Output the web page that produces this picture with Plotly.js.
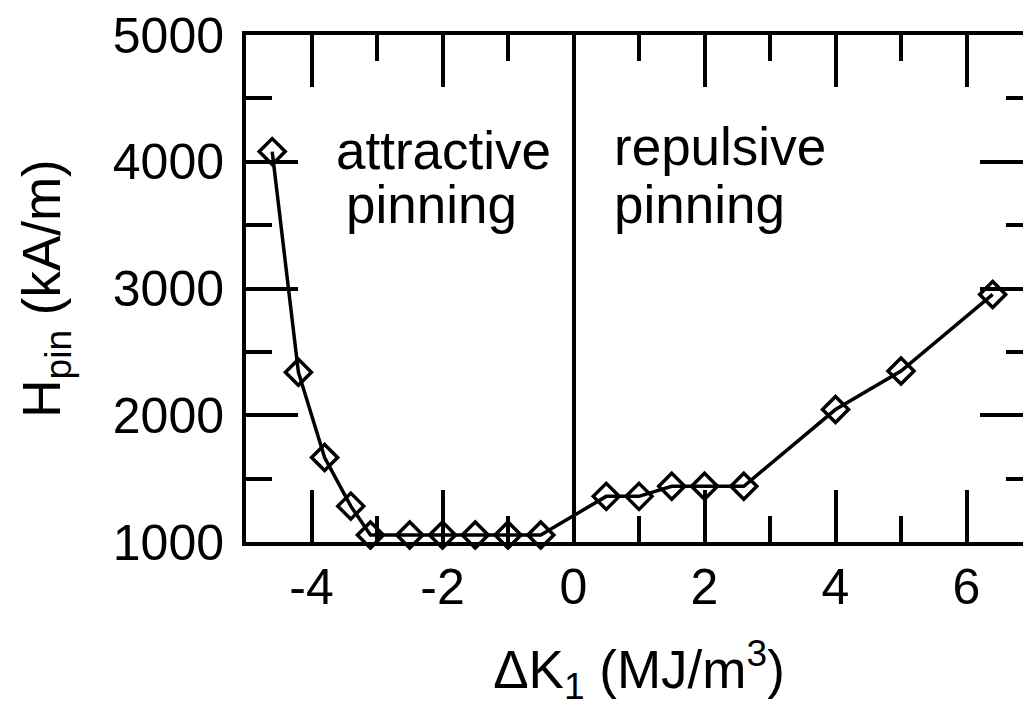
<!DOCTYPE html>
<html>
<head>
<meta charset="utf-8">
<script src="https://cdn.plot.ly/plotly-3.0.1.min.js"></script>
<style>
html,body{margin:0;padding:0;overflow:hidden;background:#fff;}
#chart{width:1050px;height:707px;}
</style>
</head>
<body>
<div id="chart"></div>
<script>
const deltaK1 = [-4.6, -4.2, -3.8, -3.4, -3.1, -2.5, -2.0, -1.5, -1.0, -0.5, 0.5, 1.0, 1.5, 2.0, 2.6, 4.0, 5.0, 6.4];
const Hpin = [4080, 2340, 1667, 1283, 1055, 1055, 1055, 1055, 1055, 1055, 1360, 1360, 1440, 1440, 1440, 2045, 2349, 2953];
const xTicks = [-4, -2, 0, 2, 4, 6];
const yTicks = [1000, 2000, 3000, 4000, 5000];
const regionLabels = [
  {text: 'attractive', x: -3.65, y: 4090},
  {text: 'pinning', x: -3.5, y: 3660},
  {text: 'repulsive', x: 0.59, y: 4120},
  {text: 'pinning', x: 0.59, y: 3660}
];

const FONT = 'Liberation Sans, Arial, sans-serif';

const trace = {
  x: deltaK1, y: Hpin, type: 'scatter', mode: 'lines+markers',
  line: {color: '#000', width: 3.5},
  marker: {symbol: 'diamond-open', size: 20, color: '#000', line: {color: '#000', width: 3.5}},
  cliponaxis: false, showlegend: false, hoverinfo: 'skip'
};

const axisCommon = {
  showgrid: false, showline: true, linecolor: '#000', linewidth: 4,
  ticks: 'inside', tickcolor: '#000', tickwidth: 4, ticklen: 52,
  mirror: 'ticks',
  tickfont: {family: FONT, size: 50, color: '#000'}
};

const layout = {
  width: 1050, height: 707,
  margin: {l: 246, r: 18, t: 35, b: 165},
  paper_bgcolor: '#fff', plot_bgcolor: '#fff',
  font: {family: FONT, color: '#000'},
  xaxis: Object.assign({}, axisCommon, {
    range: [-5, 7], tickmode: 'array', tickvals: xTicks, ticktext: xTicks.map(String),
    minor: {dtick: 1, tick0: 0, ticks: 'inside', ticklen: 26, tickwidth: 4, tickcolor: '#000', showgrid: false},
    zeroline: true, zerolinecolor: '#000', zerolinewidth: 4,
    ticklabelstandoff: -2,
    title: {text: '\u0394K<sub>1</sub> (MJ/m<sup>3</sup>)', font: {family: FONT, size: 53, color: '#000'}, standoff: 40}
  }),
  yaxis: Object.assign({}, axisCommon, {
    range: [1000, 5000], tickmode: 'array', tickvals: yTicks, ticktext: yTicks.map(String),
    minor: {dtick: 500, tick0: 0, ticks: 'inside', ticklen: 26, tickwidth: 4, tickcolor: '#000', showgrid: false},
    zeroline: false,
    ticklabelstandoff: 8,
    title: {text: 'H<sub>pin</sub> (kA/m)', font: {family: FONT, size: 53, color: '#000'}, standoff: 36}
  }),
  annotations: regionLabels.map(l => ({
    text: l.text, x: l.x, y: l.y, xref: 'x', yref: 'y', showarrow: false,
    xanchor: 'left', yanchor: 'middle',
    font: {family: FONT, size: 53, color: '#000'}
  }))
};

Plotly.newPlot('chart', [trace], layout, {displayModeBar: false, staticPlot: true});
</script>
</body>
</html>
